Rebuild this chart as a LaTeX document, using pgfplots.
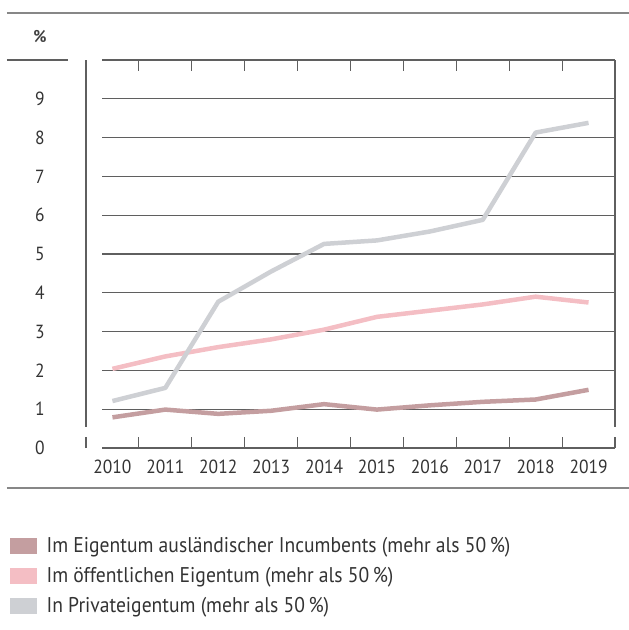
\documentclass[border=0pt]{standalone}
\usepackage{pgfplots}
\pgfplotsset{compat=1.18}
\usepackage{fontspec}
\setmainfont{PT Sans}[FakeStretch=0.92]
\definecolor{cBrown}{RGB}{196,158,160}
\definecolor{cPink}{RGB}{244,190,196}
\definecolor{cGray}{RGB}{206,208,212}
\definecolor{cAxis}{RGB}{95,95,95}
\definecolor{cRule}{RGB}{135,135,135}
\pgfplotstableread{
x brown pink gray
0 0.79 2.04 1.21
1 0.99 2.36 1.55
2 0.88 2.60 3.77
3 0.96 2.80 4.55
4 1.13 3.05 5.26
5 0.99 3.38 5.35
6 1.10 3.54 5.58
7 1.19 3.70 5.88
8 1.25 3.90 8.13
9 1.50 3.75 8.38
}\datatable
\begin{document}
\begin{tikzpicture}
\useasboundingbox (-86pt,-182pt) rectangle (543pt,448pt);
\begin{axis}[
  at={(0pt,0pt)}, anchor=south west,
  width=529pt, height=388pt, scale only axis,
  xmin=-0.5, xmax=9.5, ymin=0, ymax=10,
  axis line style={draw=none},
  xtick={0,...,9},
  xticklabels={2010,2011,2012,2013,2014,2015,2016,2017,2018,2019},
  major x tick style={draw=none},
  minor xtick={-0.5,0.5,...,9.5},
  xtick pos=both, xticklabel pos=bottom,
  tick align=inside,
  minor tick length=11pt,
  minor x tick style={cAxis, line width=1.2pt},
  ytick={0,...,9}, ytick pos=left,
  major y tick style={draw=none},
  x tick label style={anchor=base, yshift=-25pt, font=\fontsize{19}{22}\selectfont, text=black!80},
  y tick label style={anchor=center, xshift=-46pt, font=\fontsize{19}{22}\selectfont, text=black!80},
  /pgf/number format/assume math mode=true,
  clip=false,
  legend style={at={(axis description cs:-0.1437,-0.228)}, anchor=north west,
    draw=none, fill=none, inner sep=0pt, row sep=11pt, column sep=9pt,
    font=\fontsize{21.3}{24}\selectfont, text=black!80,
    nodes={inner sep=1pt}},
  legend cell align=left,
]
% grid lines
\pgfplotsinvokeforeach{1,...,9}{
  \draw[cAxis, line width=1.2pt] (axis cs:-0.16,#1) -- (axis cs:9.5,#1);
  \draw[cAxis, line width=1.2pt] (axis cs:-0.5,#1) ++(-10pt,0) -- ++(19pt,0);
}
% frame
\draw[cAxis, line width=1.2pt] (axis cs:-0.5,10) ++(-10pt,0) -- (axis cs:9.5,10);
\draw[cAxis, line width=1.2pt] (axis cs:-0.5,0) ++(-10pt,0) -- (axis cs:9.5,0);
\draw[cAxis, line width=1.2pt] (axis cs:-0.5,10) -- (axis cs:-0.5,0.55);
\draw[cAxis, line width=1.2pt] (axis cs:9.5,10) -- (axis cs:9.5,0.55);
\addplot[forget plot, cPink, line width=4.5pt, line join=round] table[x=x, y=pink] {\datatable};
\addplot[forget plot, cBrown, line width=4.5pt, line join=round] table[x=x, y=brown] {\datatable};
\addplot[forget plot, cGray, line width=4.5pt, line join=round] table[x=x, y=gray] {\datatable};
\addlegendimage{legend image code/.code={\fill[cBrown] (0pt,-7.5pt) rectangle (26pt,7.5pt);}}
\addlegendentry{Im Eigentum ausländischer Incumbents (mehr als 50\,\%)}
\addlegendimage{legend image code/.code={\fill[cPink] (0pt,-7.5pt) rectangle (26pt,7.5pt);}}
\addlegendentry{Im öffentlichen Eigentum (mehr als 50\,\%)}
\addlegendimage{legend image code/.code={\fill[cGray] (0pt,-7.5pt) rectangle (26pt,7.5pt);}}
\addlegendentry{In Privateigentum (mehr als 50\,\%)}
\end{axis}
\draw[cRule, line width=1.3pt] (-79pt,435pt) -- (543pt,435pt);
\draw[cAxis, line width=1.2pt] (-79pt,388pt) -- (-18pt,388pt);
\draw[cRule, line width=1.3pt] (-79pt,-40pt) -- (543pt,-40pt);
\node[font=\fontsize{17}{20}\selectfont\bfseries, text=black!75] at (-46pt,411pt) {\%};
\end{tikzpicture}
\end{document}
